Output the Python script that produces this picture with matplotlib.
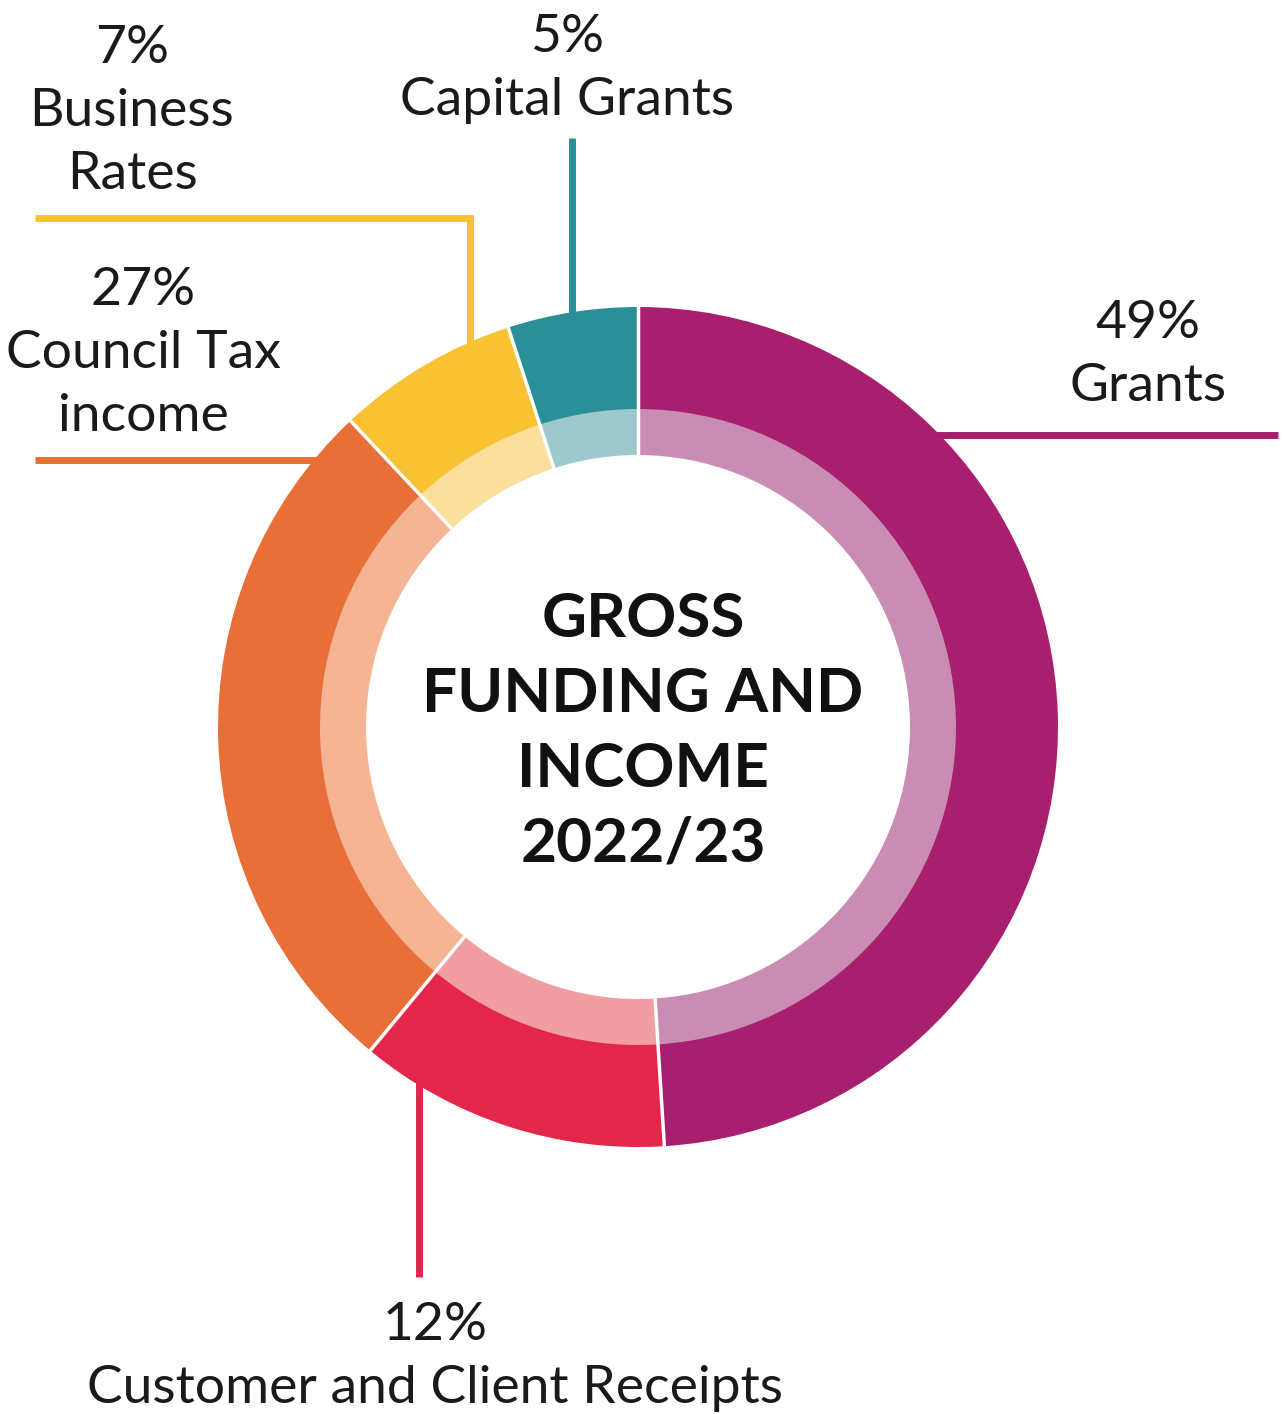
import matplotlib
matplotlib.use('Agg')
import matplotlib.pyplot as plt
import numpy as np

# data: order clockwise from 12 o'clock
categories = ['Grants', 'Customer and Client Receipts', 'Council Tax income',
              'Business Rates', 'Capital Grants']
shares = [49, 12, 27, 7, 5]
dark_colors = ['#A81F6F', '#E4264A', '#E96F39', '#F8C232', '#2A8F98']
light_colors = ['#C98CB3', '#F09EA2', '#F5B594', '#FBDF9C', '#9DC8CC']
label_lines = [['49%', 'Grants'],
               ['12%', 'Customer and Client Receipts'],
               ['27%', 'Council Tax', 'income'],
               ['7%', 'Business', 'Rates'],
               ['5%', 'Capital Grants']]

W, H = 1282, 1414
fig = plt.figure(figsize=(W / 100, H / 100), dpi=100)
ax = fig.add_axes([0, 0, 1, 1])

cx, cy = 638, H - 727
r_out, r_mid, r_in = 420, 318, 272

ax.pie(shares, colors=dark_colors, radius=r_out, center=(cx, cy),
       startangle=90, counterclock=False,
       wedgeprops=dict(width=r_out - r_mid + 1, linewidth=0))
ax.pie(shares, colors=light_colors, radius=r_mid, center=(cx, cy),
       startangle=90, counterclock=False,
       wedgeprops=dict(width=r_mid - r_in, linewidth=0))

# white separators between slices (radial only)
bounds = np.cumsum([0] + shares) / sum(shares) * 360.0
for a in bounds[:-1]:
    t = np.radians(a)
    ax.plot([cx + r_in * np.sin(t), cx + (r_out + 2) * np.sin(t)],
            [cy + r_in * np.cos(t), cy + (r_out + 2) * np.cos(t)],
            color='white', lw=2.5, solid_capstyle='butt')

ax.set_xlim(0, W)
ax.set_ylim(0, H)
ax.set_aspect('equal')
ax.axis('off')

# leader lines: angle (deg, clockwise from top) where line meets the ring
leader_angle = [46.0, 211.4, 309.5, 336.4, 351.0]


def ring_point(a):
    t = np.radians(a)
    return cx + r_out * np.sin(t), cy + r_out * np.cos(t)


lw = 5
# Grants: horizontal to right edge
x0, y0 = ring_point(leader_angle[0])
ax.plot([x0 - 8, 1278], [y0, y0], color=dark_colors[0], lw=lw, solid_capstyle='butt')
# Customer: straight down
x0, y0 = ring_point(leader_angle[1])
ax.plot([x0, x0], [y0 + 8, H - 1277], color=dark_colors[1], lw=lw, solid_capstyle='butt')
# Council tax: horizontal to left
x0, y0 = ring_point(leader_angle[2])
ax.plot([x0 + 8, 35], [y0, y0], color=dark_colors[2], lw=lw, solid_capstyle='butt')
# Business rates: up then left
x0, y0 = ring_point(leader_angle[3])
ax.plot([x0, x0, 35], [y0 - 8, H - 218, H - 218], color=dark_colors[3], lw=lw,
        solid_capstyle='butt', solid_joinstyle='miter')
# Capital grants: straight up
x0, y0 = ring_point(leader_angle[4])
ax.plot([x0, x0], [y0 - 8, H - 138], color=dark_colors[4], lw=lw, solid_capstyle='butt')

# label text: centre x and first baseline (pixels from top)
label_pos = [(1148, 338), (435, 1340), (143, 305), (132, 63), (567, 52)]
step = 63
for lines, (lx, ly) in zip(label_lines, label_pos):
    for i, s in enumerate(lines):
        ax.text(lx, H - (ly + i * step), s, ha='center', va='baseline',
                fontsize=38.5, family='Lato', color='#1a1a1a')

title = ['GROSS', 'FUNDING AND', 'INCOME', '2022/23']
for i, s in enumerate(title):
    ax.text(cx + 5, H - (637 + i * 75), s, ha='center', va='baseline',
            fontsize=44.7, family='Lato', fontweight='bold', color='#111111')

fig.savefig('out.png', dpi=100)
